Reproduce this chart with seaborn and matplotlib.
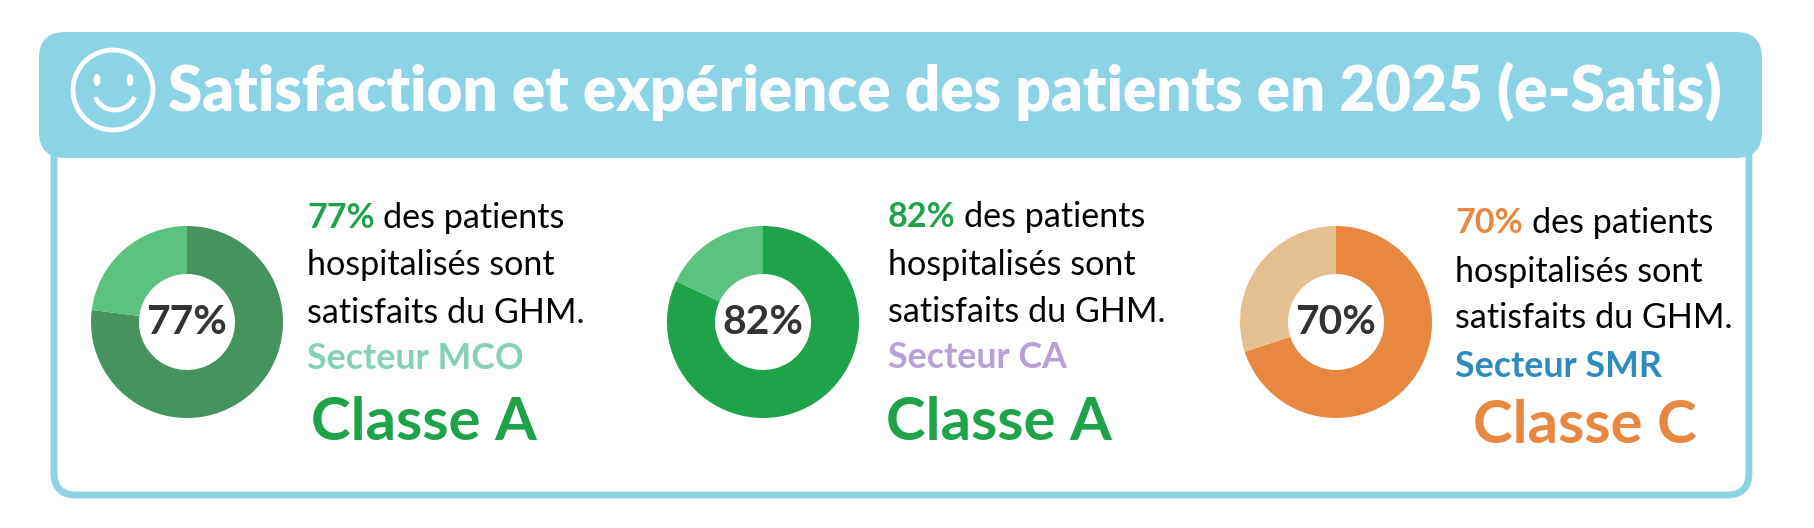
import matplotlib
matplotlib.use("Agg")
import matplotlib.pyplot as plt
from matplotlib.patches import FancyBboxPatch, Circle, Ellipse, Arc
import seaborn as sns

# Data
title = "Satisfaction et expérience des patients en 2025 (e-Satis)"
sectors = ["Secteur MCO", "Secteur CA", "Secteur SMR"]
satisfaction = [77, 82, 70]
classes = ["Classe A", "Classe A", "Classe C"]
body_lines = ["des patients", "hospitalisés sont", "satisfaits du GHM."]

# Styles
main_colors = ["#45945f", "#1ea34a", "#e8873f"]
rest_colors = ["#5cc27f", "#5cc27f", "#e4bf8f"]
pct_colors = ["#1ea34a", "#1ea34a", "#e8873f"]
sector_colors = ["#86d0b8", "#b89fd6", "#2e8bc0"]
class_colors = ["#1ea34a", "#1ea34a", "#e8873f"]
BLUE = "#8dd3e6"

sns.set_theme(style="white")
plt.rcParams["font.family"] = ["Lato", "DejaVu Sans"]

W, H = 1814, 528
fig = plt.figure(figsize=(W / 100, H / 100), dpi=100)
fig.patch.set_facecolor("white")
renderer = fig.canvas.get_renderer()

bg = fig.add_axes([0, 0, 1, 1])
bg.set_xlim(0, W)
bg.set_ylim(H, 0)
bg.axis("off")


def text_width(s, size, **kw):
    t = bg.text(0, 0, s, fontsize=size, **kw)
    w = t.get_window_extent(renderer).width
    t.remove()
    return w


def fit_size(s, target, **kw):
    return 100 * target / text_width(s, 100, **kw)


# body frame and header
body = FancyBboxPatch((54, 120), 1749 - 54, 495 - 120,
                      boxstyle="round,pad=0,rounding_size=22",
                      facecolor="white", edgecolor=BLUE, linewidth=5)
bg.add_patch(body)
header = FancyBboxPatch((39, 32), 1762 - 39, 158 - 32,
                        boxstyle="round,pad=0,rounding_size=26",
                        facecolor=BLUE, edgecolor="none")
bg.add_patch(header)

# smiley
bg.add_patch(Circle((113, 90), 40, facecolor="none", edgecolor="white", linewidth=3.5))
bg.add_patch(Ellipse((97, 80), 7, 12, facecolor="white", edgecolor="none"))
bg.add_patch(Ellipse((130, 80), 7, 12, facecolor="white", edgecolor="none"))
bg.add_patch(Arc((115, 90), 42, 40, theta1=20, theta2=160, edgecolor="white", linewidth=3.5))

title_kw = dict(fontweight="heavy", color="white")
ts = fit_size(title, 1553, **title_kw)
bg.text(168, 112, title, fontsize=ts, va="baseline", ha="left", **title_kw)

# text sizes
body_size = fit_size("hospitalisés sont", 248)
sect_size = fit_size("Secteur MCO", 217, fontweight="bold")
class_size = fit_size("Classe A", 226, fontweight="bold")
center_size = fit_size("77%", 81, fontweight="bold")
space_w = text_width("a a", body_size) - text_width("aa", body_size)

centers = [(187, 322), (763, 322), (1336, 322)]
text_x = [307, 888, 1455]
class_x = [311, 886, 1473]
baselines = [[228, 275, 323, 369, 440],
             [227, 275, 322, 368, 440],
             [233, 282, 328, 377, 443]]
R = 96

for i, val in enumerate(satisfaction):
    cx, cy = centers[i]
    ax = fig.add_axes([(cx - R) / W, 1 - (cy + R) / H, 2 * R / W, 2 * R / H])
    ax.pie([val, 100 - val], colors=[main_colors[i], rest_colors[i]],
           startangle=90, counterclock=False, radius=1,
           wedgeprops=dict(width=0.5, edgecolor="none"))
    ax.set_xlim(-1, 1)
    ax.set_ylim(-1, 1)
    ax.text(0, 0, f"{val}%", ha="center", va="center", fontsize=center_size,
            fontweight="bold", color="#333333")

    x0 = text_x[i]
    yb = baselines[i]
    pct = bg.text(x0, yb[0], f"{val}%", fontsize=body_size, fontweight="bold",
                  color=pct_colors[i], va="baseline", ha="left")
    pw = pct.get_window_extent(renderer).width
    bg.text(x0 + pw + space_w, yb[0], body_lines[0], fontsize=body_size,
            color="black", va="baseline", ha="left")
    bg.text(x0, yb[1], body_lines[1], fontsize=body_size, color="black",
            va="baseline", ha="left")
    bg.text(x0, yb[2], body_lines[2], fontsize=body_size, color="black",
            va="baseline", ha="left")
    bg.text(x0, yb[3], sectors[i], fontsize=sect_size, fontweight="bold",
            color=sector_colors[i], va="baseline", ha="left")
    bg.text(class_x[i], yb[4], classes[i], fontsize=class_size, fontweight="bold",
            color=class_colors[i], va="baseline", ha="left")

fig.savefig("out.png", dpi=100, facecolor="white")
